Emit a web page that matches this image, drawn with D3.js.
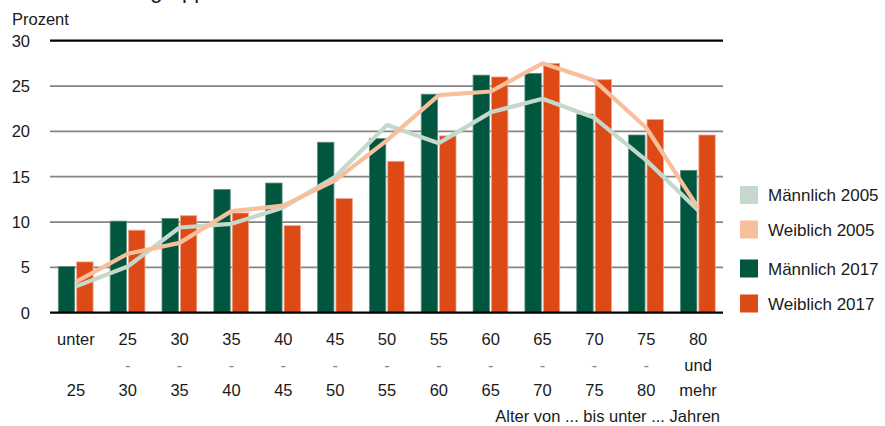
<!DOCTYPE html>
<html>
<head>
<meta charset="utf-8">
<script src="https://cdn.jsdelivr.net/npm/d3@7"></script>
<style>
  html, body { margin: 0; padding: 0; background: #fff; }
  svg { display: block; }
  text { font-family: "Liberation Sans", Arial, sans-serif; fill: #1a1a1a; }
</style>
</head>
<body>
<svg id="chart" width="885" height="426"></svg>
<script>
// ---- data ----
const categories = [
  ["unter", "", "25"], ["25", "-", "30"], ["30", "-", "35"], ["35", "-", "40"],
  ["40", "-", "45"], ["45", "-", "50"], ["50", "-", "55"], ["55", "-", "60"],
  ["60", "-", "65"], ["65", "-", "70"], ["70", "-", "75"], ["75", "-", "80"],
  ["80", "und", "mehr"]
];
const maennlich2005 = [2.9, 5.1, 9.4, 9.8, 11.6, 15.0, 20.7, 18.7, 22.1, 23.6, 21.5, 16.8, 11.3];
const weiblich2005  = [3.4, 6.5, 7.7, 11.2, 11.8, 14.6, 19.0, 24.0, 24.4, 27.5, 25.6, 20.4, 11.6];
const maennlich2017 = [5.1, 10.1, 10.4, 13.6, 14.3, 18.8, 19.2, 24.1, 26.2, 26.4, 21.9, 19.6, 15.7];
const weiblich2017  = [5.6, 9.1, 10.7, 11.0, 9.6, 12.6, 16.7, 19.5, 26.0, 27.5, 25.7, 21.3, 19.6];
const yTicks = [0, 5, 10, 15, 20, 25, 30];
const legendLabels = ["Männlich 2005", "Weiblich 2005", "Männlich 2017", "Weiblich 2017"];
const yTitle = "Prozent";
const xTitle = "Alter von ... bis unter ... Jahren";
const titleText = "Altersgruppen";

// ---- styles ----
const colors = {
  m2005: "#c4d8cc",
  w2005: "#f7bf9b",
  m2017: "#00563f",
  w2017: "#de4a16"
};
const legendColors = [colors.m2005, colors.w2005, colors.m2017, colors.w2017];

const svg = d3.select("#chart");
const x0 = 50, x1 = 724, yTop = 40.7, yBot = 312.7;

const x = d3.scaleBand().domain(d3.range(categories.length)).range([x0, x1]).paddingInner(0).paddingOuter(0);
const y = d3.scaleLinear().domain([0, 30]).range([yBot, yTop]);

// title fragment (cut off at top)
svg.append("text").attr("x", 94).attr("y", -2).style("font-size", "22px").text(titleText);

// gridlines
const grid = svg.append("g");
grid.selectAll("line").data(yTicks.filter(d => d !== 0 && d !== 30)).enter().append("line")
  .attr("x1", x0).attr("x2", x1 - 1)
  .attr("y1", d => y(d)).attr("y2", d => y(d))
  .attr("stroke", "#858585").attr("stroke-width", 1.7);

// bars
const bw = 16.4;
const bars = svg.append("g");
bars.selectAll("rect.m").data(maennlich2017).enter().append("rect")
  .attr("x", (d, i) => x(i) + 8.3)
  .attr("y", d => y(d)).attr("width", bw).attr("height", d => yBot - y(d))
  .attr("fill", colors.m2017).attr("stroke", "#5f8f7d").attr("stroke-width", 0.8);
bars.selectAll("rect.w").data(weiblich2017).enter().append("rect")
  .attr("x", (d, i) => x(i) + 8.3 + bw + 2)
  .attr("y", d => y(d)).attr("width", bw).attr("height", d => yBot - y(d))
  .attr("fill", colors.w2017).attr("stroke", "#f0a58a").attr("stroke-width", 0.8);

// axis lines (0 and 30)
[0, 30].forEach(v => {
  svg.append("line").attr("x1", x0).attr("x2", x1 - 1)
    .attr("y1", y(v)).attr("y2", y(v))
    .attr("stroke", "#000").attr("stroke-width", 2.2);
});

// lines
const line = d3.line().x((d, i) => x(i) + x.bandwidth() / 2).y(d => y(d));
svg.append("path").datum(maennlich2005).attr("d", line)
  .attr("fill", "none").attr("stroke", colors.m2005).attr("stroke-width", 4.2).attr("stroke-linejoin", "round");
svg.append("path").datum(weiblich2005).attr("d", line)
  .attr("fill", "none").attr("stroke", colors.w2005).attr("stroke-width", 4.2).attr("stroke-linejoin", "round");

// y tick labels
svg.append("g").selectAll("text").data(yTicks).enter().append("text")
  .attr("x", 30).attr("y", d => y(d)).attr("dy", "0.36em")
  .attr("text-anchor", "end").style("font-size", "16.5px").text(d => d);

svg.append("text").attr("x", 12).attr("y", 25).style("font-size", "16.5px").text(yTitle);

// x labels
const xl = svg.append("g");
categories.forEach((c, i) => {
  c.forEach((t, j) => {
    if (!t) return;
    xl.append("text").attr("x", x(i) + x.bandwidth() / 2).attr("y", 345 + j * 25.5)
      .attr("text-anchor", "middle").style("font-size", "16.5px")
      .style("fill", t === "-" ? "#888" : "#1a1a1a")
      .text(t);
  });
});
svg.append("text").attr("x", 720).attr("y", 422).attr("text-anchor", "end")
  .style("font-size", "16.5px").text(xTitle);

// legend
const legendY = [195, 229.5, 268.5, 303.5];
const lg = svg.append("g");
legendLabels.forEach((l, i) => {
  lg.append("rect").attr("x", 740).attr("y", legendY[i] - 9).attr("width", 18).attr("height", 18)
    .attr("fill", legendColors[i]);
  lg.append("text").attr("x", 768).attr("y", legendY[i]).attr("dy", "0.36em")
    .style("font-size", "17px").text(l);
});
</script>
</body>
</html>
